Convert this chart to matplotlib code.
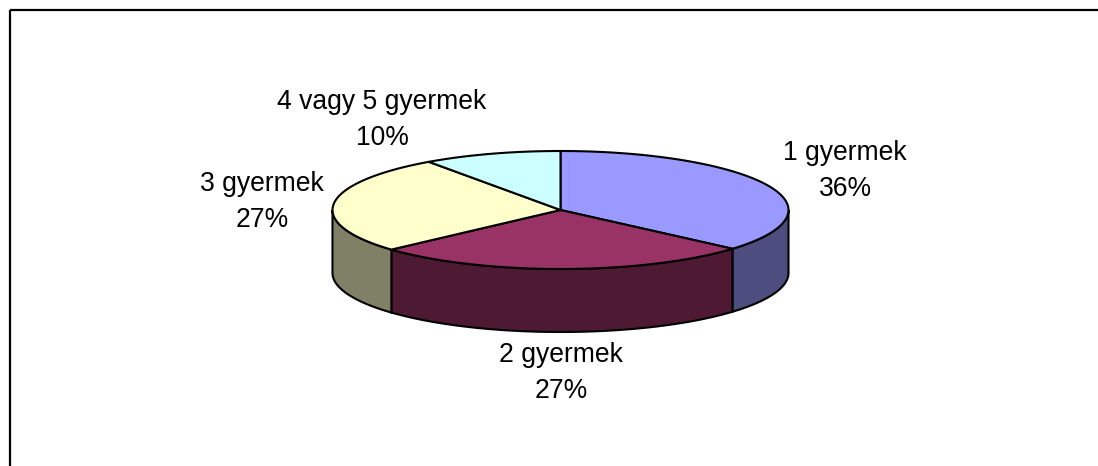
import numpy as np
import matplotlib
matplotlib.use("Agg")
import matplotlib.pyplot as plt
from matplotlib.patches import Polygon

plt.rcParams["font.family"] = ["Liberation Sans", "DejaVu Sans"]

labels = ["1 gyermek", "2 gyermek", "3 gyermek", "4 vagy 5 gyermek"]
values = [36.4, 26.9, 26.9, 9.8]
top_colors = ["#9999ff", "#993366", "#ffffcc", "#ccffff"]
side_colors = ["#4d4d80", "#4d1933", "#808066", "#668080"]

cx, cy = 560.5, 210
rx, ry = 228, 59
depth = 63

fig = plt.figure(figsize=(10.98, 4.66), dpi=100)
ax = fig.add_axes([0, 0, 1, 1])
ax.set_xlim(0, 1098)
ax.set_ylim(466, 0)
ax.axis("off")

# the frame is cut off on the right and at the bottom
ax.plot([10, 10], [466, 10], color="black", lw=1.6, solid_capstyle="butt")
ax.plot([10, 1098], [10, 10], color="black", lw=1.6, solid_capstyle="butt")

# angles clockwise from 12 o'clock
edges = np.cumsum([0] + values) / sum(values) * 2 * np.pi


def ell(a, dy=0):
    return cx + rx * np.sin(a), cy - ry * np.cos(a) + dy


# side walls, only the front half of the pie
for i in range(len(values)):
    a0 = max(edges[i], np.pi / 2)
    a1 = min(edges[i + 1], 3 * np.pi / 2)
    if a1 <= a0:
        continue
    a = np.linspace(a0, a1, 100)
    x, y = ell(a)
    xb, yb = ell(a, depth)
    pts = np.r_[np.c_[x, y], np.c_[xb, yb][::-1]]
    ax.add_patch(Polygon(pts, closed=True, fc=side_colors[i], ec="black", lw=1.5, zorder=2))

# top of the pie
for i in range(len(values)):
    a = np.linspace(edges[i], edges[i + 1], 100)
    x, y = ell(a)
    pts = np.r_[[[cx, cy]], np.c_[x, y]]
    ax.add_patch(Polygon(pts, closed=True, fc=top_colors[i], ec="black", lw=1.5, zorder=3))

pcts = [f"{v:.0f}%" for v in values]
label_pos = [(845, 171), (561, 373), (262, 202), (382, 120)]
for name, pct, (lx, ly) in zip(labels, pcts, label_pos):
    ax.text(lx, ly, name + "\n" + pct, ha="center", va="center", fontsize=19.1, linespacing=1.5, color="black")

fig.savefig("out.png", dpi=100)
